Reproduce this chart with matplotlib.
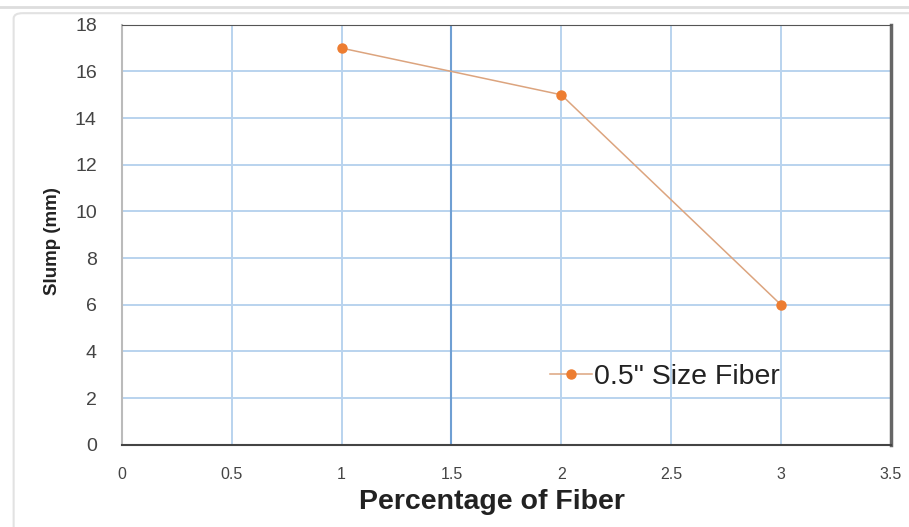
import matplotlib
matplotlib.use('Agg')
import matplotlib.pyplot as plt
from matplotlib.patches import FancyBboxPatch

# Data
fiber_pct = [1, 2, 3]
slump_mm = [17, 15, 6]
series_label = '0.5" Size Fiber'
x_ticks = [0, 0.5, 1, 1.5, 2, 2.5, 3, 3.5]
x_tick_labels = ['0', '0.5', '1', '1.5', '2', '2.5', '3', '3.5']
y_ticks = [0, 2, 4, 6, 8, 10, 12, 14, 16, 18]

plt.rcParams['font.family'] = ['Liberation Sans', 'DejaVu Sans']

fig = plt.figure(figsize=(9.09, 5.27), dpi=100)

# faint outer frame of the pasted chart
fig.add_artist(plt.Line2D([0, 1], [0.987, 0.987], transform=fig.transFigure,
                          color='#dddddd', lw=2))
fig.add_artist(FancyBboxPatch((0.015, -0.05), 1.2, 1.025, transform=fig.transFigure,
                              boxstyle='round,pad=0,rounding_size=0.01',
                              fc='none', ec='#e2e2e2', lw=1.5))

ax = fig.add_axes([0.134, 0.156, 0.846, 0.797])

ax.plot(fiber_pct, slump_mm, color='#dca47e', lw=1.1, marker='o', ms=6.5,
        mfc='#ed7d31', mec='#ed7d31', label=series_label, zorder=3)

ax.set_xlim(0, 3.5)
ax.set_ylim(0, 18)
ax.set_xticks(x_ticks)
ax.set_xticklabels(x_tick_labels)
ax.set_yticks(y_ticks)

ax.grid(True, color='#b9d3ee', lw=1.4)
ax.set_axisbelow(True)
ax.axvline(1.5, color='#6f9fd3', lw=1.5, zorder=1)

ax.spines['top'].set_color('#555555')
ax.spines['right'].set_color('#666666')
ax.spines['right'].set_linewidth(2.5)
ax.spines['bottom'].set_color('#444444')
ax.spines['bottom'].set_linewidth(1.5)
ax.spines['left'].set_color('#bbbbbb')
ax.spines['left'].set_linewidth(1.5)

ax.tick_params(length=0, labelcolor='#444444')
ax.tick_params(axis='x', pad=16, labelsize=11.5)
ax.tick_params(axis='y', pad=18, labelsize=14)

ax.set_xlabel('Percentage of Fiber', fontsize=20.5, fontweight='bold',
              color='#222222')
ax.xaxis.set_label_coords(0.481, -0.105)
ax.set_ylabel('Slump (mm)', fontsize=13.5, fontweight='bold', color='#222222')
ax.yaxis.set_label_coords(-0.079, 0.485)

ax.legend(loc='center', bbox_to_anchor=(0.706, 0.162), frameon=False,
          fontsize=20.5, handlelength=1.5, handletextpad=0.05,
          labelcolor='#222222')

fig.savefig('out.png', dpi=100)
